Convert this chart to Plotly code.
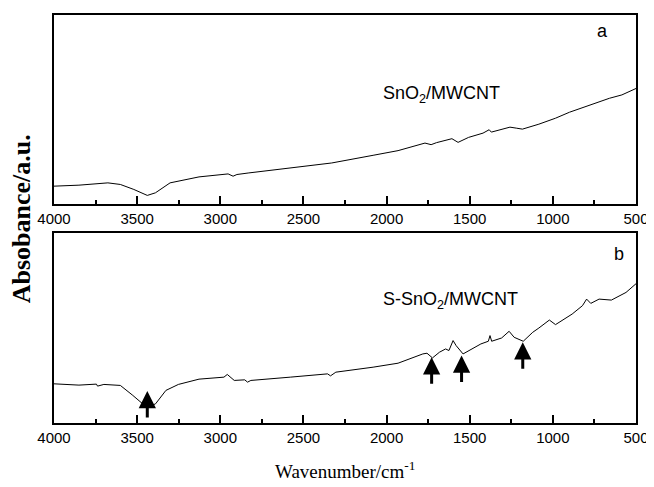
import plotly.graph_objects as go
from plotly.subplots import make_subplots

# ---- data (arbitrary absorbance units) ----
wn_a = [4000, 3850, 3676, 3601, 3520, 3439, 3390, 3302, 3128, 2953, 2923, 2900,
        2828, 2579, 2330, 2081, 1931, 1769, 1732, 1700, 1657, 1607, 1570, 1507,
        1420, 1383, 1370, 1300, 1258, 1220, 1183, 1084, 984, 900, 785, 660, 585, 498]
abs_a = [18, 19, 21.3, 19.7, 14.7, 8.7, 11.3, 21.3, 27.3, 30.3, 28, 29.7,
         31.3, 36.3, 41.3, 49, 53.7, 61.3, 59.7, 61.7, 63.7, 65.7, 62, 67,
         71.3, 74.7, 72.3, 75.3, 77.3, 76.3, 75.3, 80.3, 86.3, 92.3, 99, 106.3, 109.7, 116.3]

wn_b = [4000, 3850, 3745, 3738, 3700, 3601, 3526, 3439, 3389, 3327, 3252, 3128,
        2978, 2958, 2916, 2853, 2836, 2816, 2579, 2355, 2337, 2305, 2081, 1931,
        1782, 1757, 1724, 1682, 1645, 1625, 1600, 1582, 1540, 1483, 1433, 1388,
        1378, 1368, 1308, 1263, 1233, 1178, 1121, 1084, 1021, 984, 884, 822,
        797, 772, 722, 648, 610, 560, 498]
abs_b = [39.3, 38, 39, 37, 38.7, 37.7, 27.7, 15.3, 19.3, 32.7, 38.7, 44,
         46, 48.7, 42.7, 43.3, 41, 42.7, 46, 49.3, 47.3, 51, 56, 60,
         69.3, 70, 65.3, 71, 74.3, 72.7, 82.7, 77.7, 69.3, 74.3, 79.3, 82,
         87.7, 82, 85.3, 92, 86, 82, 91, 95.3, 103.3, 98.7, 109.3, 117.7,
         124.3, 120, 124.3, 123.3, 126.7, 131, 140]

# arrows in panel b: wavenumber and absorbance of the arrow tip
arrow_wn = [3439, 1729, 1549, 1181]
arrow_tip = [32, 66, 67.7, 81]

tick_vals = [4000, 3500, 3000, 2500, 2000, 1500, 1000, 500]
tick_text = [str(v) for v in tick_vals]

label_a = "SnO<sub>2</sub>/MWCNT"
label_b = "S-SnO<sub>2</sub>/MWCNT"

SANS = "Arial, Liberation Sans, sans-serif"
SERIF = "Times New Roman, Liberation Serif, serif"

fig = make_subplots(rows=2, cols=1, shared_xaxes=False, vertical_spacing=0.0)

fig.add_trace(go.Scatter(x=wn_a, y=abs_a, mode="lines",
                         line=dict(color="black", width=1), showlegend=False), row=1, col=1)
fig.add_trace(go.Scatter(x=wn_b, y=abs_b, mode="lines",
                         line=dict(color="black", width=1), showlegend=False), row=2, col=1)

xcommon = dict(range=[4000, 500], tickvals=tick_vals, ticktext=tick_text,
               ticks="inside", ticklen=8, tickwidth=1.5, tickcolor="black",
               showline=True, linecolor="black", linewidth=1.5, mirror=True,
               showgrid=False, zeroline=False,
               tickfont=dict(family=SANS, size=15, color="black"),
               minor=dict(dtick=250, tick0=500, ticks="inside", ticklen=4,
                          tickwidth=1.5, tickcolor="black", showgrid=False))
ycommon = dict(showticklabels=False, ticks="", showline=True, linecolor="black",
               linewidth=1.5, mirror=True, showgrid=False, zeroline=False)

fig.update_layout(
    width=646, height=479,
    margin=dict(l=46, r=13, t=5, b=64),
    paper_bgcolor="white", plot_bgcolor="white",
    xaxis=dict(domain=[0, 1], **xcommon),
    xaxis2=dict(domain=[0, 1], **xcommon),
    yaxis=dict(domain=[0.5366, 1], range=[0, 190], **ycommon),
    yaxis2=dict(domain=[0, 0.4659], range=[0, 190.7], **ycommon),
)

annotations = []
for w, t in zip(arrow_wn, arrow_tip):
    annotations.append(dict(x=w, y=t, xref="x2", yref="y2", text="",
                            showarrow=True, arrowhead=2, arrowsize=1.15,
                            arrowwidth=3, arrowcolor="black", ax=0, ay=28,
                            standoff=0))
annotations += [
    dict(x=2033, y=110, xref="x", yref="y", text=label_a, showarrow=False,
         xanchor="left", yanchor="middle", font=dict(family=SANS, size=18, color="black")),
    dict(x=2033, y=122.7, xref="x2", yref="y2", text=label_b, showarrow=False,
         xanchor="left", yanchor="middle", font=dict(family=SANS, size=18, color="black")),
    dict(x=702, y=174, xref="x", yref="y", text="a", showarrow=False,
         xanchor="center", yanchor="middle", font=dict(family=SANS, size=18, color="black")),
    dict(x=601, y=169.7, xref="x2", yref="y2", text="b", showarrow=False,
         xanchor="center", yanchor="middle", font=dict(family=SANS, size=18, color="black")),
    dict(x=-0.0562, y=0.5, xref="paper", yref="paper", text="<b>Absobance/a.u.</b>",
         textangle=-90, showarrow=False, xanchor="center", yanchor="middle",
         font=dict(family=SERIF, size=26, color="black")),
    dict(x=0.5, y=-0.1146, xref="paper", yref="paper", text="Wavenumber/cm<sup>-1</sup>",
         showarrow=False, xanchor="center", yanchor="middle",
         font=dict(family=SERIF, size=19, color="black")),
]
fig.update_layout(annotations=annotations)

fig.write_html("out.html")
